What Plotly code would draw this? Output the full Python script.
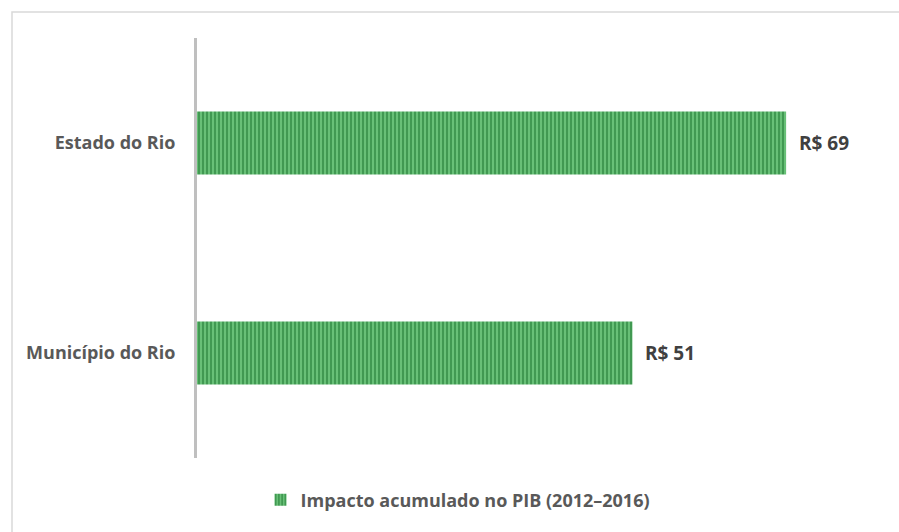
import plotly.graph_objects as go

categories = ["Município do Rio", "Estado do Rio"]
values = [51, 69]
value_labels = ["R$ 51", "R$ 69"]
series_name = "Impacto acumulado no PIB (2012–2016)"

W, H = 899, 532
L, R, T, B = 197, 19, 38, 74
pw, ph = W - L - R, H - T - B

def px2paper_x(px):
    return (px - L) / pw

def px2paper_y(py):
    return (H - B - py) / ph

FONT = "Open Sans"

fig = go.Figure()
fig.add_trace(go.Bar(
    y=categories, x=values, orientation="h", name=series_name,
    width=0.3,
    marker=dict(
        color="#3f9f4f",
        line=dict(width=0),
        pattern=dict(shape="|", fgcolor="#166d29", bgcolor="#6cc47a",
                     size=4, solidity=0.55, fillmode="overlay"),
    ),
    showlegend=True,
))

for c, v, t in zip(categories, values, value_labels):
    fig.add_annotation(x=v, y=c, text=t, showarrow=False, xanchor="left",
                       xshift=11, font=dict(size=19, color="#404040",
                                            family=FONT, weight=700))

fig.add_shape(type="rect", xref="paper", yref="paper",
              x0=px2paper_x(12), x1=px2paper_x(905),
              y0=px2paper_y(540), y1=px2paper_y(12),
              line=dict(color="#d9d9d9", width=1.5), fillcolor="rgba(0,0,0,0)",
              layer="below")

fig.update_layout(
    width=W, height=H,
    margin=dict(l=L, r=R, t=T, b=B),
    paper_bgcolor="white", plot_bgcolor="white",
    font=dict(family=FONT, color="#595959", size=18, weight=700),
    xaxis=dict(range=[0, 80], visible=False, showgrid=False, zeroline=False),
    yaxis=dict(range=[-0.5, 1.5], showline=True, linecolor="#bfbfbf", linewidth=3,
               showgrid=False, zeroline=False, ticks="", ticklabelstandoff=15,
               tickfont=dict(size=18, color="#595959", family=FONT, weight=700)),
    legend=dict(orientation="h", x=px2paper_x(458), xanchor="center",
                y=px2paper_y(500), yanchor="middle", itemwidth=30,
                font=dict(size=18, color="#595959", family=FONT, weight=700)),
    showlegend=True,
)

fig.write_html("out.html", config={"displayModeBar": False},
               post_script="document.body.style.margin='0';")
